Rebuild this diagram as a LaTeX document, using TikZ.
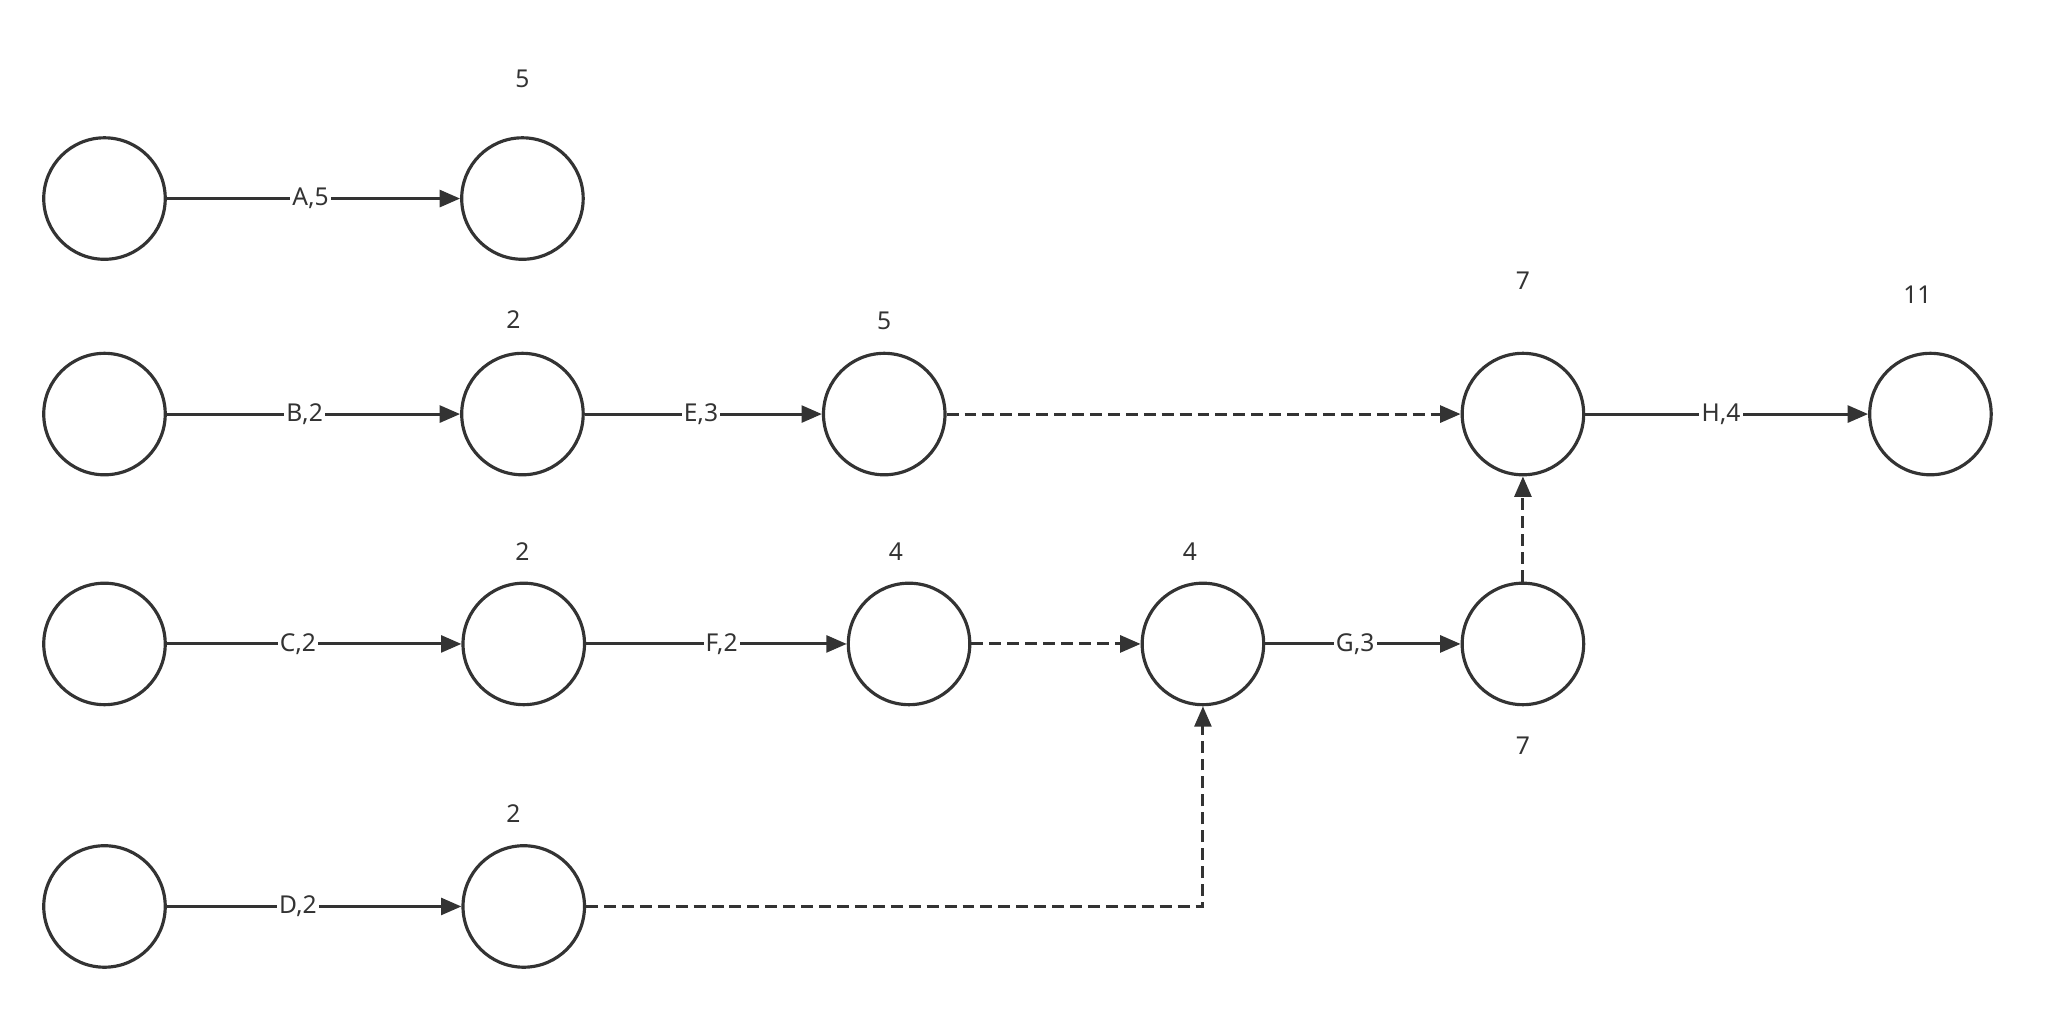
\documentclass[tikz,border=0pt]{standalone}
\usepackage{fontspec}
\setmainfont{Noto Sans}
\usetikzlibrary{arrows.meta}
\definecolor{ink}{HTML}{333333}
\tikzset{event/.style={circle,draw=ink,line width=0.9pt,minimum size=1.215cm,inner sep=0pt},
        act/.style={draw=ink,line width=0.85pt,-{Triangle[length=5.8pt,width=4.8pt]}},
        dummy/.style={act,dash pattern=on 3.4pt off 1.7pt},
        elabel/.style={fill=white,inner sep=0.6pt,text=ink,font=\fontsize{7}{8}\selectfont},
        etime/.style={text=ink,font=\fontsize{7}{8}\selectfont},
        }

\begin{document}
\begin{tikzpicture}[x=0.013061cm,y=-0.013061cm]
    \useasboundingbox (0,0) rectangle (1568,774);

    % row A
    \node[event] (A0) at (80,152) {};
    \node[event] (A1) at (400,152) {};
    \node[etime] (tA1) at (400,60) {5};

    % row B
    \node[event] (B0) at (80,317) {};
    \node[event] (B1) at (400,317) {};
    \node[event] (B2) at (677,317) {};
    \node[event] (B3) at (1166,317) {};
    \node[event] (B4) at (1478,317) {};
    \node[etime] (tB1) at (393,245) {2};
    \node[etime] (tB2) at (677,246) {5};
    \node[etime] (tB3) at (1166,215) {7};
    \node[etime] (tB4) at (1468,226) {11};

    % row C
    \node[event] (C0) at (80,493) {};
    \node[event] (C1) at (401,493) {};
    \node[event] (C2) at (696,493) {};
    \node[event] (C3) at (921,493) {};
    \node[event] (C4) at (1166,493) {};
    \node[etime] (tC1) at (400,422) {2};
    \node[etime] (tC2) at (686,422) {4};
    \node[etime] (tC3) at (911,422) {4};
    \node[etime] (tC4) at (1166,571) {7};

    % row D
    \node[event] (D0) at (80,694) {};
    \node[event] (D1) at (401,694) {};
    \node[etime] (tD1) at (393,623) {2};

    % activities
    \draw[act] (A0) -- node[elabel,pos=0.49] {A,5} (A1);
    \draw[act] (B0) -- node[elabel,pos=0.47] {B,2} (B1);
    \draw[act] (B1) -- node[elabel,pos=0.49] {E,3} (B2);
    \draw[act] (B3) -- node[elabel,pos=0.48] {H,4} (B4);
    \draw[act] (C0) -- node[elabel,pos=0.445] {C,2} (C1);
    \draw[act] (C1) -- node[elabel,pos=0.52] {F,2} (C2);
    \draw[act] (C3) -- node[elabel,pos=0.46] {G,3} (C4);
    \draw[act] (D0) -- node[elabel,pos=0.445] {D,2} (D1);

    % dummy activities
    \draw[dummy] (B2) -- (B3);
    \draw[dummy] (C2) -- (C3);
    \draw[dummy] (C4) -- (B3);
    \draw[dummy] (D1) -| (C3);
\end{tikzpicture}
\end{document}
